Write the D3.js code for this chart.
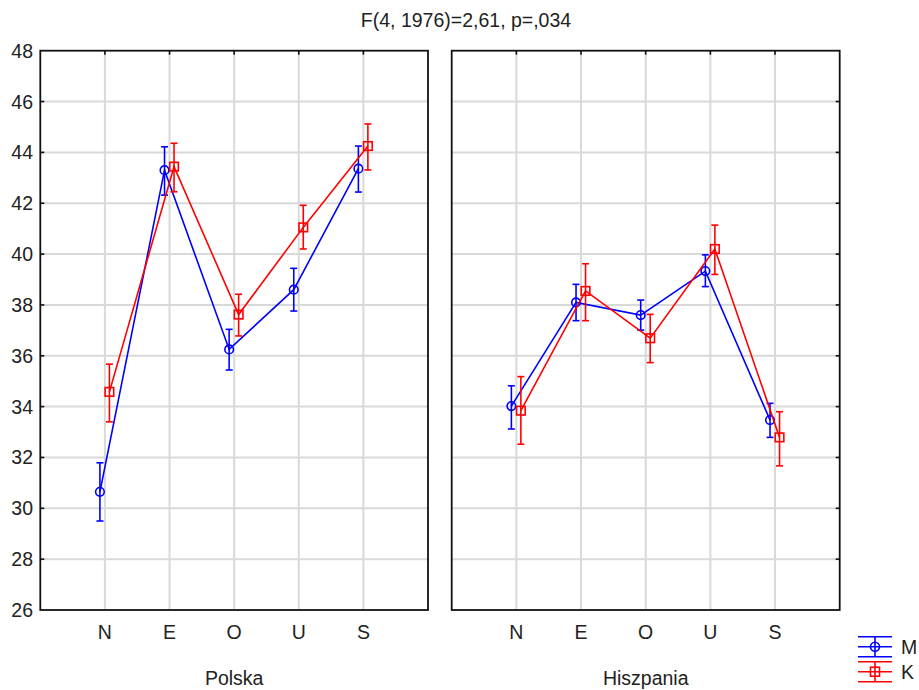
<!DOCTYPE html>
<html>
<head>
<meta charset="utf-8">
<script src="https://cdn.jsdelivr.net/npm/d3@7"></script>
<style>
  body { margin: 0; background: #fff; }
  text { font-family: Arial, "Liberation Sans", sans-serif; fill: #222; }
</style>
</head>
<body>
<div id="chart"></div>
<script>
// data
const cats = ["N", "E", "O", "U", "S"];
const panels = ["Polska", "Hiszpania"];
const yTicks = [26, 28, 30, 32, 34, 36, 38, 40, 42, 44, 46, 48];

// Polska
const polskaM   = [30.65, 43.30, 36.25, 38.60, 43.36];
const polskaMlo = [29.50, 42.32, 35.44, 37.76, 42.44];
const polskaMhi = [31.79, 44.22, 37.04, 39.44, 44.25];
const polskaK   = [34.58, 43.44, 37.62, 41.05, 44.25];
const polskaKlo = [33.40, 42.45, 36.78, 40.20, 43.31];
const polskaKhi = [35.67, 44.36, 38.42, 41.92, 45.12];
// Hiszpania
const hiszpM   = [34.02, 38.10, 37.60, 39.33, 33.47];
const hiszpMlo = [33.12, 37.38, 37.01, 38.72, 32.79];
const hiszpMhi = [34.82, 38.81, 38.19, 39.97, 34.13];
const hiszpK   = [33.84, 38.55, 36.69, 40.20, 32.79];
const hiszpKlo = [32.52, 37.38, 35.73, 39.20, 31.67];
const hiszpKhi = [35.18, 39.62, 37.63, 41.14, 33.80];

const seriesDefs = [
  { name: "M", color: "#0000ff", shape: "circle", dx: -5 },
  { name: "K", color: "#ff0000", shape: "square", dx: 4.5 }
];
const panelData = [
  [ { mean: polskaM, lo: polskaMlo, hi: polskaMhi }, { mean: polskaK, lo: polskaKlo, hi: polskaKhi } ],
  [ { mean: hiszpM, lo: hiszpMlo, hi: hiszpMhi }, { mean: hiszpK, lo: hiszpKlo, hi: hiszpKhi } ]
];

const width = 919, height = 690;
const plotTop = 50.7, plotBottom = 610;
const panelX = [[40.3, 428], [451.7, 839.7]];
const fontSize = 19.5;

const svg = d3.select("#chart").append("svg")
  .attr("width", width).attr("height", height);

const y = d3.scaleLinear().domain([26, 48]).range([plotBottom, plotTop]);

// title
svg.append("text")
  .attr("x", 466).attr("y", 27)
  .attr("text-anchor", "middle")
  .style("font-size", "19.5px")
  .text("F(4, 1976)=2,61, p=,034");

// y tick labels
svg.append("g").selectAll("text").data(yTicks).enter().append("text")
  .attr("x", 33).attr("y", d => y(d))
  .attr("dy", "0.36em")
  .attr("text-anchor", "end")
  .style("font-size", fontSize + "px")
  .text(d => d);

panels.forEach((pname, pi) => {
  const [x0, x1] = panelX[pi];
  const x = d3.scalePoint().domain(cats).range([x0, x1]).padding(1);
  const g = svg.append("g");

  // grid
  g.selectAll("line.h").data(yTicks.slice(1, -1)).enter().append("line")
    .attr("x1", x0).attr("x2", x1)
    .attr("y1", d => y(d)).attr("y2", d => y(d))
    .attr("stroke", "#d9d9d9").attr("stroke-width", 2);
  g.selectAll("line.v").data(cats).enter().append("line")
    .attr("x1", d => x(d)).attr("x2", d => x(d))
    .attr("y1", plotTop).attr("y2", plotBottom)
    .attr("stroke", "#d9d9d9").attr("stroke-width", 2);

  // frame
  g.append("rect")
    .attr("x", x0).attr("y", plotTop)
    .attr("width", x1 - x0).attr("height", plotBottom - plotTop)
    .attr("fill", "none").attr("stroke", "#111").attr("stroke-width", 1.8);

  // inner ticks: top on categories, y ticks on outer side
  g.selectAll("line.tt").data(cats).enter().append("line")
    .attr("x1", d => x(d)).attr("x2", d => x(d))
    .attr("y1", plotTop).attr("y2", plotTop + 4)
    .attr("stroke", "#111").attr("stroke-width", 1.6);
  const edge = pi === 0 ? x0 : x1;
  const dir = pi === 0 ? 1 : -1;
  g.selectAll("line.yt").data(yTicks.slice(1, -1)).enter().append("line")
    .attr("x1", edge).attr("x2", edge + dir * 4)
    .attr("y1", d => y(d)).attr("y2", d => y(d))
    .attr("stroke", "#111").attr("stroke-width", 1.6);

  // category labels
  g.selectAll("text.cat").data(cats).enter().append("text")
    .attr("x", d => x(d)).attr("y", 632)
    .attr("dy", "0.36em")
    .attr("text-anchor", "middle")
    .style("font-size", fontSize + "px")
    .text(d => d);

  // panel label
  g.append("text")
    .attr("x", (x0 + x1) / 2).attr("y", 678)
    .attr("dy", "0.36em")
    .attr("text-anchor", "middle")
    .style("font-size", fontSize + "px")
    .text(pname);

  // series
  seriesDefs.forEach((s, si) => {
    const d = panelData[pi][si];
    const pts = cats.map((c, i) => ({
      x: x(c) + s.dx, m: d.mean[i], lo: d.lo[i], hi: d.hi[i]
    }));
    const sg = g.append("g");

    sg.append("path")
      .datum(pts)
      .attr("d", d3.line().x(p => p.x).y(p => y(p.m)))
      .attr("fill", "none").attr("stroke", s.color).attr("stroke-width", 1.6);

    const eb = sg.selectAll("g.eb").data(pts).enter().append("g");
    eb.append("line")
      .attr("x1", p => p.x).attr("x2", p => p.x)
      .attr("y1", p => y(p.lo)).attr("y2", p => y(p.hi))
      .attr("stroke", s.color).attr("stroke-width", 1.6);
    [p => p.lo, p => p.hi].forEach(f => {
      eb.append("line")
        .attr("x1", p => p.x - 3.5).attr("x2", p => p.x + 3.5)
        .attr("y1", p => y(f(p))).attr("y2", p => y(f(p)))
        .attr("stroke", s.color).attr("stroke-width", 1.6);
    });

    if (s.shape === "circle") {
      eb.append("circle")
        .attr("cx", p => p.x).attr("cy", p => y(p.m)).attr("r", 4.3)
        .attr("fill", "none").attr("stroke", s.color).attr("stroke-width", 1.6);
    } else {
      eb.append("rect")
        .attr("x", p => p.x - 4.3).attr("y", p => y(p.m) - 4.3)
        .attr("width", 8.6).attr("height", 8.6)
        .attr("fill", "none").attr("stroke", s.color).attr("stroke-width", 1.6);
    }
  });
});

// legend
const legend = svg.append("g");
seriesDefs.forEach((s, i) => {
  const cy = 646.7 + i * 25;
  const lg = legend.append("g");
  [-10, 0, 10].forEach(off => {
    lg.append("line")
      .attr("x1", 858).attr("x2", 892)
      .attr("y1", cy + off).attr("y2", cy + off)
      .attr("stroke", s.color).attr("stroke-width", 1.6);
  });
  lg.append("line")
    .attr("x1", 875).attr("x2", 875)
    .attr("y1", cy - 10).attr("y2", cy + 10)
    .attr("stroke", s.color).attr("stroke-width", 1.6);
  if (s.shape === "circle") {
    lg.append("circle").attr("cx", 875).attr("cy", cy).attr("r", 4.5)
      .attr("fill", "none").attr("stroke", s.color).attr("stroke-width", 1.6);
  } else {
    lg.append("rect").attr("x", 870.5).attr("y", cy - 4.5)
      .attr("width", 9).attr("height", 9)
      .attr("fill", "none").attr("stroke", s.color).attr("stroke-width", 1.6);
  }
  lg.append("text")
    .attr("x", 901).attr("y", cy)
    .attr("dy", "0.36em")
    .style("font-size", fontSize + "px")
    .text(s.name);
});
</script>
</body>
</html>
